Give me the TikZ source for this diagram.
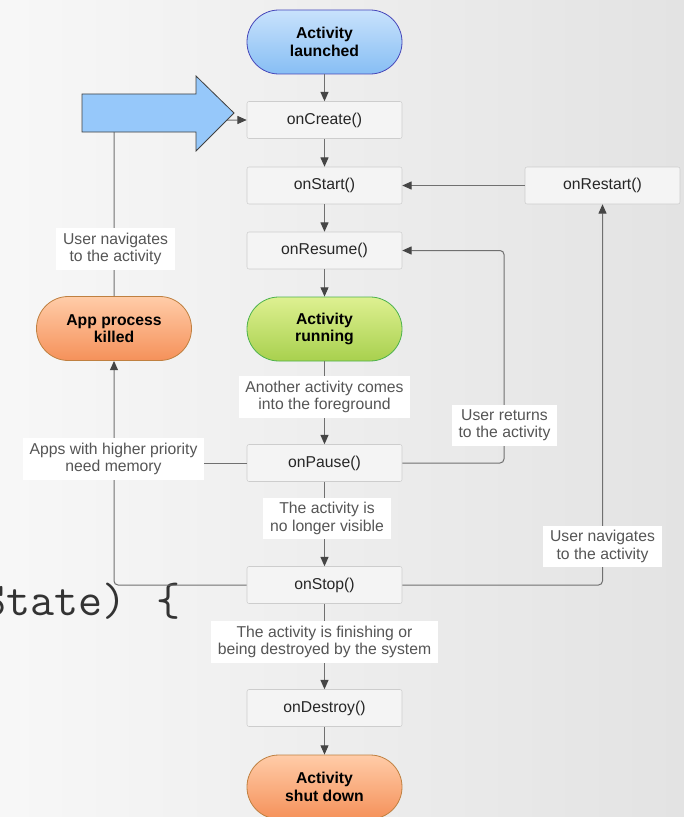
\documentclass[tikz,border=0pt]{standalone}
\usepackage{fontspec}
\setmainfont{Liberation Sans}
\usepackage{xcolor}
\usepackage{tikz}
\usetikzlibrary{arrows.meta}

\definecolor{lineGray}{HTML}{707070}
\definecolor{tipGray}{HTML}{454545}
\definecolor{boxFill}{HTML}{F4F4F4}
\definecolor{boxLine}{HTML}{CDCDCD}
\definecolor{lblText}{HTML}{555555}
\definecolor{arrowBlue}{HTML}{96C8FA}

\begin{document}
\begin{tikzpicture}[x=0.75pt,y=-0.75pt,
    font=\fontsize{11.8}{13}\selectfont,
    box/.style={draw=boxLine,fill=boxFill,rounded corners=1.5pt,
      minimum width=116.25pt,minimum height=27.75pt,text=black!85},
    pill/.style={rounded corners=23.9pt,minimum width=116.25pt,
      minimum height=48pt,align=center,font=\fontsize{11.8}{13}\selectfont\bfseries,
      line width=0.6pt},
    lbl/.style={fill=white,text=lblText,align=center,inner xsep=5pt,inner ysep=3.5pt},
    link/.style={draw=lineGray,line width=0.75pt},
    arr/.style={link,-{Triangle[length=7pt,width=6pt,color=tipGray]}}]
    \useasboundingbox (0,0) rectangle (684,817);
    \clip (0,0) rectangle (684,817);
    \shade[left color=white!97!black,right color=white!89!black] (0,0) rectangle (684,817);
    % code line behind the chart
    \node[anchor=base west,inner sep=0pt,text=black!80,
      font=\fontsize{35}{35}\ttfamily] (code) at (-18,615) {State)\hspace{22.5pt}\{};
    % start, running and end states
    \node[pill,draw=blue!45!gray,top color={rgb,255:red,200;green,226;blue,252},
      bottom color={rgb,255:red,135;green,190;blue,244}] (launched) at (324.5,42) {Activity\\launched};
    \node[pill,draw=green!40!gray,top color={rgb,255:red,222;green,240;blue,145},
      bottom color={rgb,255:red,168;green,208;blue,78}] (running) at (324.5,329) {Activity\\running};
    \node[pill,draw=orange!50!gray,top color={rgb,255:red,255;green,204;blue,168},
      bottom color={rgb,255:red,245;green,145;blue,90}] (killed) at (114,328.5) {App process\\killed};
    \node[pill,draw=orange!50!gray,top color={rgb,255:red,255;green,204;blue,168},
      bottom color={rgb,255:red,245;green,145;blue,90}] (shutdown) at (324.5,787) {Activity\\shut down};
    % callbacks
    \foreach \n/\y in {onCreate/120,onStart/185.5,onResume/250.5,onPause/463,onStop/585,onDestroy/708}
      \node[box] (\n) at (324.5,\y) {\n()};
    \node[box] (onRestart) at (602.5,185.5) {onRestart()};
    % main line
    \foreach \a/\b in {launched/onCreate,onCreate/onStart,onStart/onResume,onResume/running,
      running/onPause,onPause/onStop,onStop/onDestroy,onDestroy/shutdown}
      \draw[arr] (\a) -- (\b);
    \draw[arr] (onRestart) -- (onStart);
    % loops back
    \coordinate (retCorner) at (504,250.5);
    \draw[arr,rounded corners=3pt] (onPause.east) -| (retCorner) -- (onResume.east);
    \draw[arr,rounded corners=3pt] (onStop.east) -| (onRestart.south);
    \draw[arr,rounded corners=3pt] (onStop.west) -| (killed.south);
    \draw[link] (onPause.west) -- (onPause.west -| killed.south);
    \draw[arr,rounded corners=3pt] (killed.north) |- (onCreate.west);
    % labels
    \node[lbl] (lblNavLeft) at (115.5,249) {User navigates\\to the activity};
    \node[lbl] (lblPriority) at (113.5,459) {Apps with higher priority\\need memory};
    \node[lbl] (lblForeground) at (324.5,397) {Another activity comes\\into the foreground};
    \node[lbl] (lblReturns) at (504.5,425.5) {User returns\\to the activity};
    \node[lbl] (lblInvisible) at (327,518.5) {The activity is\\no longer visible};
    \node[lbl] (lblNavRight) at (602.5,546.5) {User navigates\\to the activity};
    \node[lbl] (lblFinishing) at (324.5,642) {The activity is finishing or\\being destroyed by the system};
    % big pointer
    \draw[fill=arrowBlue,draw=black!75,line width=0.6pt]
      (82,94) -- (196,94) -- (196,76) -- (234,113) -- (196,151) -- (196,132) -- (82,132) -- cycle;
\end{tikzpicture}
\end{document}
